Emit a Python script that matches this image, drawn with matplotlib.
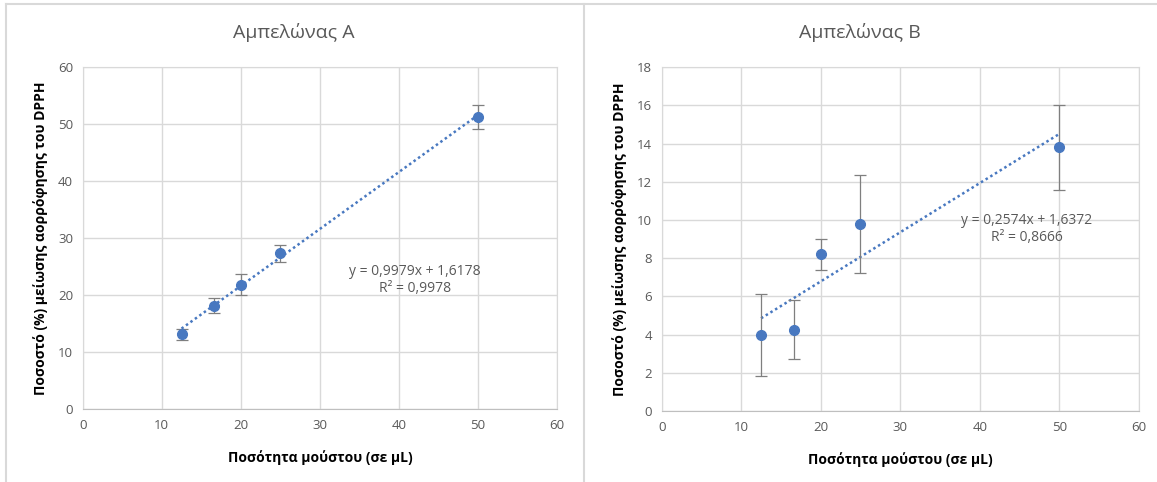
import matplotlib.pyplot as plt
from matplotlib.lines import Line2D
import numpy as np

# --- data ---
volume_ul = [12.5, 16.67, 20, 25, 50]

vineyard_a = [13.1, 18.1, 21.8, 27.3, 51.1]
vineyard_a_err = [0.95, 1.3, 1.9, 1.5, 2.1]
trend_a = (0.9979, 1.6178, 0.9978)   # slope, intercept, R²

vineyard_b = [4.0, 4.25, 8.2, 9.8, 13.8]
vineyard_b_err = [2.15, 1.55, 0.82, 2.57, 2.2]
trend_b = (0.2574, 1.6372, 0.8666)

titles = ["Αμπελώνας A", "Αμπελώνας B"]
x_label = "Ποσότητα μούστου (σε μL)"
y_label = "Ποσοστό (%) μείωσης αορρόφησης του DPPH"

plt.rcParams["font.family"] = ["Open Sans", "Noto Sans", "DejaVu Sans"]

blue = "#4878C0"
grey_text = "#595959"
grid_col = "#d9d9d9"

W, H = 1157, 482
fig = plt.figure(figsize=(W / 100, H / 100), dpi=100)

# borders of the two chart areas (top edge + vertical separators)
frame = dict(transform=fig.transFigure, color="#d9d9d9", linewidth=1.5)
fig.add_artist(Line2D([6 / W, 1], [1 - 4 / H, 1 - 4 / H], **frame))
fig.add_artist(Line2D([6 / W, 6 / W], [0, 1 - 4 / H], **frame))
fig.add_artist(Line2D([584 / W, 584 / W], [0, 1 - 4 / H], **frame))


def box(l, r, t, b):
    return [l / W, 1 - b / H, (r - l) / W, (b - t) / H]


panels = [
    dict(rect=box(82.7, 557, 66.7, 409), y=vineyard_a, err=vineyard_a_err,
         trend=trend_a, ymax=60, ystep=10, title=titles[0], tx=294,
         eq_pos=(42.0, 24.1, 21.2)),
    dict(rect=box(661.7, 1138.7, 67.3, 411), y=vineyard_b, err=vineyard_b_err,
         trend=trend_b, ymax=18, ystep=2, title=titles[1], tx=860,
         eq_pos=(45.9, 10.0, 9.1)),
]

for p in panels:
    ax = fig.add_axes(p["rect"])
    ax.set_xlim(0, 60)
    ax.set_ylim(0, p["ymax"])
    ax.set_xticks(np.arange(0, 61, 10))
    ax.set_yticks(np.arange(0, p["ymax"] + 1, p["ystep"]))
    ax.grid(True, color=grid_col, linewidth=1)
    ax.set_axisbelow(True)
    for side in ["top", "right", "left"]:
        ax.spines[side].set_color(grid_col)
    ax.spines["bottom"].set_color("#bfbfbf")
    ax.tick_params(length=0, colors=grey_text, labelsize=9.5, pad=7)

    # linear trendline (Excel)
    slope, intercept, r2 = p["trend"]
    xs = np.array([min(volume_ul), max(volume_ul)])
    ax.plot(xs, slope * xs + intercept, linestyle=(0, (1, 1.2)), color=blue,
            linewidth=1.8, zorder=2)

    ax.errorbar(volume_ul, p["y"], yerr=p["err"], fmt="o", color=blue,
                markersize=7, ecolor="#7f7f7f", elinewidth=0.9, capsize=4,
                capthick=0.9, zorder=3)

    ex, ey1, ey2 = p["eq_pos"]
    eq = f"y = {slope:.4f}x + {intercept:.4f}".replace(".", ",")
    ax.text(ex, ey1, eq, ha="center", va="center", color=grey_text, fontsize=10)
    ax.text(ex, ey2, f"R² = {r2:.4f}".replace(".", ","), ha="center",
            va="center", color=grey_text, fontsize=10)

    ax.set_xlabel(x_label, fontsize=10, fontweight="bold", color="black",
                  labelpad=13)
    ax.set_ylabel(y_label, fontsize=10, fontweight="bold", color="black",
                  labelpad=7)
    fig.text(p["tx"] / W, 1 - 33 / H, p["title"], ha="center", va="center",
             fontsize=14, color=grey_text)

fig.savefig("out.png", dpi=100, facecolor="white")
